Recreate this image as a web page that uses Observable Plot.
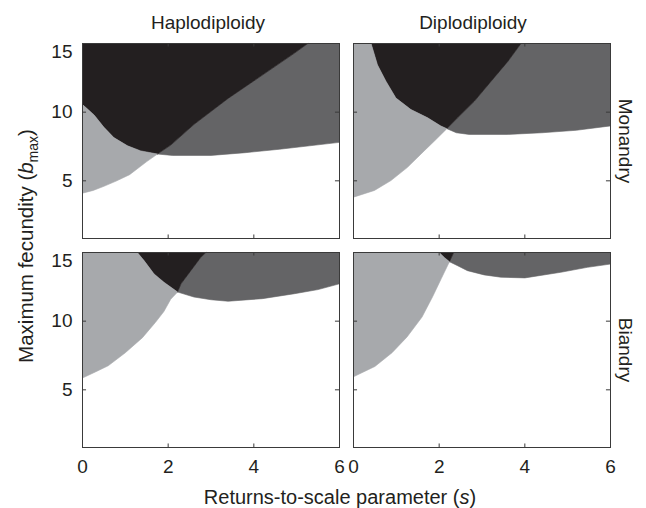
<!DOCTYPE html>
<html>
<head>
<meta charset="utf-8">
<script src="https://cdn.jsdelivr.net/npm/d3@7"></script>
<script src="https://cdn.jsdelivr.net/npm/@observablehq/plot@0.6"></script>
<style>
  html, body { margin: 0; padding: 0; background: #fff; }
  #chart { width: 646px; height: 508px; }
</style>
</head>
<body>
<div id="chart"></div>
<script>
// ---- data ----
const columns = ["Haplodiploidy", "Diplodiploidy"];
const rows = ["Monandry", "Biandry"];
const xTicks = [0, 2, 4, 6];
const yTicks = [5, 10, 15];
const xMax = 6, yMin = 0.8, yMax = 15;

// boundaries [s, bmax] per panel
// Haplodiploidy / Monandry
const hmLightLow  = [[0,4.1],[0.25,4.3],[0.5,4.6],[0.8,5.0],[1.1,5.45],[1.5,6.4],[1.75,6.95]];
const hmLightTop  = [[0,10.55],[0.27,9.8],[0.5,8.9],[0.73,8.15],[1.05,7.55],[1.36,7.18],[1.75,6.95]];
const hmDarkLow   = [[1.75,6.95],[2.1,6.85],[3.0,6.85],[3.8,7.05],[4.6,7.3],[5.3,7.55],[6,7.8]];
const hmBlackEdge = [[1.75,6.95],[2.06,7.6],[2.6,9.1],[3.4,11.0],[4.2,12.7],[4.95,14.3],[5.26,15]];
// Diplodiploidy / Monandry
const dmLightLow  = [[0,3.81],[0.49,4.3],[0.875,5.02],[1.26,5.98],[1.65,7.18],[1.89,7.9],[2.18,8.8]];
const dmLightTop  = [[0.41,15],[0.56,13.44],[0.76,12.24],[0.99,11.03],[1.34,10.19],[1.73,9.59],[2.04,8.99],[2.18,8.8]];
const dmDarkLow   = [[2.18,8.8],[2.4,8.5],[2.7,8.38],[3.6,8.38],[4.4,8.5],[5.2,8.68],[6,9.0]];
const dmBlackEdge = [[2.18,8.8],[2.43,9.59],[2.82,10.79],[3.21,12.24],[3.6,13.68],[3.91,15]];
// Haplodiploidy / Biandry
const hbLightLow  = [[0,5.86],[0.3,6.3],[0.6,6.75],[1.0,7.7],[1.4,8.8],[1.7,9.9],[1.9,10.7],[2.06,11.6],[2.22,12.12]];
const hbLightTop  = [[1.28,15],[1.44,14.4],[1.67,13.44],[1.9,12.84],[2.22,12.12]];
const hbDarkLow   = [[2.22,12.12],[2.6,11.76],[3.0,11.56],[3.4,11.45],[4.2,11.64],[4.95,12.0],[5.5,12.3],[6,12.72]];
const hbBlackEdge = [[2.22,12.12],[2.3,12.72],[2.53,13.68],[2.76,14.64],[2.88,15]];
// Diplodiploidy / Biandry
const dbLightLow  = [[0,5.95],[0.5,6.7],[0.9,7.7],[1.25,8.85],[1.6,10.3],[1.85,11.8],[2.05,13.1],[2.24,14.33]];
const dbLightTop  = [[2.0,15],[2.12,14.64],[2.24,14.33]];
const dbDarkLow   = [[2.24,14.33],[2.43,14.04],[2.66,13.68],[3.05,13.37],[3.44,13.2],[4.0,13.15],[4.84,13.56],[5.46,13.92],[6,14.16]];
const dbBlackEdge = [[2.24,14.33],[2.34,15]];

const colLight = "#a7a9ac", colDark = "#646466", colBlack = "#231f20";

// ---- layout ----
const W = 646, H = 508, mL = 82, mR = 36, mT = 42, mB = 61, padX = 0.052, padY = 0.067;
const bandW = (W - mL - mR) / (2 - padX) * (1 - padX);
const bandH = (H - mT - mB) / (2 - padY) * (1 - padY);
const tickLen = 4;

// ---- build region polygons ----
const panels = [
  {col: columns[0], row: rows[0], lightLow: hmLightLow, lightTop: hmLightTop, darkLow: hmDarkLow, blackEdge: hmBlackEdge},
  {col: columns[1], row: rows[0], lightLow: dmLightLow, lightTop: dmLightTop, darkLow: dmDarkLow, blackEdge: dmBlackEdge},
  {col: columns[0], row: rows[1], lightLow: hbLightLow, lightTop: hbLightTop, darkLow: hbDarkLow, blackEdge: hbBlackEdge},
  {col: columns[1], row: rows[1], lightLow: dbLightLow, lightTop: dbLightTop, darkLow: dbDarkLow, blackEdge: dbBlackEdge}
];
const light = [], dark = [], black = [];
for (const p of panels) {
  const key = p.col + "|" + p.row;
  const add = (arr, pts) => pts.forEach(([x, y]) => arr.push({x, y, col: p.col, row: p.row, key}));
  add(light, [...p.lightLow, ...p.lightTop.slice().reverse(), [0, p.lightTop[0][1]]]);
  add(black, [[p.lightTop[0][0], yMax], ...p.lightTop, ...p.blackEdge.slice(1)]);
  add(dark, [...p.darkLow, [xMax, yMax], ...p.blackEdge.slice().reverse()]);
}

const region = (data, color) => Plot.line(data, {
  x: "x", y: "y", z: "key", fx: "col", fy: "row",
  fill: color, stroke: color, strokeWidth: 0.6, curve: "linear"
});

const tickCol = "#3a3a3a";
const textCol = "#231f20";
const fmt = d => String(d);

const chart = Plot.plot({
  width: W,
  height: H,
  marginLeft: mL,
  marginRight: mR,
  marginTop: mT,
  marginBottom: mB,
  style: {fontFamily: "'Liberation Sans', Arial, sans-serif", fontSize: "19px", color: textCol, background: "#fff"},
  x: {domain: [0, xMax], label: null},
  y: {domain: [yMin, yMax], label: null},
  fx: {domain: columns, paddingInner: padX, paddingOuter: 0, label: null},
  fy: {domain: rows, paddingInner: padY, paddingOuter: 0, label: null},
  marks: [
    region(dark, colDark),
    region(black, colBlack),
    region(light, colLight),
    // inward tick marks on all four sides of every panel
    Plot.tickX(xTicks, {x: d => d, insetTop: bandH - tickLen, stroke: tickCol}),
    Plot.tickX(xTicks, {x: d => d, insetBottom: bandH - tickLen, stroke: tickCol}),
    Plot.tickY(yTicks, {y: d => d, insetRight: bandW - tickLen, stroke: tickCol}),
    Plot.tickY(yTicks, {y: d => d, insetLeft: bandW - tickLen, stroke: tickCol}),
    Plot.frame({stroke: tickCol, strokeWidth: 1}),
    Plot.axisX({ticks: xTicks, tickFormat: fmt, anchor: "bottom", tickSize: 0, tickPadding: 12, label: null, fontSize: 19, fill: textCol}),
    Plot.axisY({ticks: yTicks.filter(t => t < yMax), tickFormat: fmt, anchor: "left", tickSize: 0, tickPadding: 10, label: null, fontSize: 19, fill: textCol}),
    Plot.axisY({ticks: yTicks.filter(t => t === yMax), tickFormat: fmt, anchor: "left", tickSize: 0, tickPadding: 10, dy: 8, label: null, fontSize: 19, fill: textCol}),
    Plot.axisFx({ticks: [columns[0]], anchor: "top", tickSize: 0, tickPadding: 15, dx: -3, label: null, fontSize: 19, fill: textCol}),
    Plot.axisFx({ticks: [columns[1]], anchor: "top", tickSize: 0, tickPadding: 15, dx: -9, label: null, fontSize: 19, fill: textCol}),
    Plot.axisFy({anchor: "right", tickSize: 0, tickRotate: 90, textAnchor: "middle", lineAnchor: "middle", tickPadding: 15, label: null, fontSize: 19, fill: textCol})
  ]
});

document.getElementById("chart").appendChild(chart);

// axis titles with italic / subscript parts
const svg = d3.select(chart);
const font = "'Liberation Sans', Arial, sans-serif";
const xl = svg.append("text")
  .attr("x", 340).attr("y", 504)
  .attr("text-anchor", "middle")
  .attr("font-family", font).attr("font-size", 20).attr("fill", textCol);
xl.append("tspan").text("Returns-to-scale parameter (");
xl.append("tspan").attr("font-style", "italic").text("s");
xl.append("tspan").text(")");

const yl = svg.append("text")
  .attr("transform", "translate(26,246) rotate(-90)")
  .attr("text-anchor", "middle")
  .attr("dy", "0.35em")
  .attr("font-family", font).attr("font-size", 20.5).attr("fill", textCol);
yl.append("tspan").text("Maximum fecundity (");
yl.append("tspan").attr("font-style", "italic").text("b");
yl.append("tspan").attr("font-size", 14).attr("dy", 5).text("max");
yl.append("tspan").attr("dy", -5).text(")");
</script>
</body>
</html>
